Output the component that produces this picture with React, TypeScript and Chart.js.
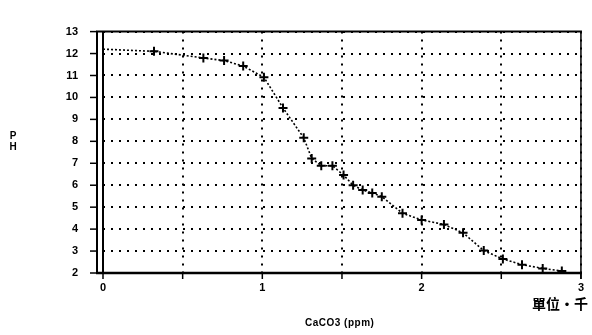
import React, { useEffect, useRef } from 'react';
import { Chart, registerables } from 'chart.js';
Chart.register(...registerables);

const xValues = [0, 0.32, 0.63, 0.76, 0.88, 1.01, 1.13, 1.26, 1.31, 1.37, 1.44, 1.51, 1.57, 1.63, 1.69, 1.75, 1.88, 2.0, 2.14, 2.26, 2.39, 2.51, 2.63, 2.76, 2.88];
const yValues = [12.2, 12.1, 11.8, 11.68, 11.43, 10.92, 9.52, 8.16, 7.22, 6.89, 6.89, 6.46, 6.0, 5.78, 5.65, 5.48, 4.72, 4.42, 4.21, 3.83, 3.02, 2.64, 2.38, 2.21, 2.09];
const xTickLabels = ['0', '1', '2', '3'];
const yAxisTitle = ['P', 'H'];
const unitLabel = '單位·千';
const xAxisTitle = 'CaCO3 (ppm)';

const framePlugin = {
  id: 'frame',
  afterDraw(chart: any) {
    const { ctx, chartArea } = chart;
    const { left, right, top, bottom } = chartArea;
    const xs = chart.scales.x;
    const ys = chart.scales.y;
    ctx.save();
    ctx.strokeStyle = '#000';
    ctx.setLineDash([]);
    ctx.lineWidth = 2;
    ctx.beginPath();
    ctx.moveTo(left - 7, top); ctx.lineTo(right + 1, top);
    ctx.stroke();
    ctx.lineWidth = 2.5;
    ctx.beginPath();
    ctx.moveTo(left - 7, bottom); ctx.lineTo(right + 1, bottom);
    ctx.stroke();
    ctx.lineWidth = 2;
    ctx.beginPath();
    ctx.moveTo(left, top); ctx.lineTo(left, bottom);
    ctx.moveTo(left - 6, top); ctx.lineTo(left - 6, bottom);
    ctx.stroke();
    ctx.lineWidth = 1.5;
    ctx.beginPath();
    ctx.moveTo(right, top); ctx.lineTo(right, bottom + 6);
    ctx.stroke();
    ctx.lineWidth = 1.5;
    for (let v = 2; v <= 13; v++) {
      const y = ys.getPixelForValue(v);
      ctx.beginPath();
      ctx.moveTo(left - 13, y); ctx.lineTo(left - 6, y);
      ctx.stroke();
    }
    for (let v = 0; v <= 3; v += 0.5) {
      const x = xs.getPixelForValue(v);
      ctx.beginPath();
      ctx.moveTo(x, bottom); ctx.lineTo(x, bottom + 6);
      ctx.stroke();
    }
    ctx.fillStyle = '#000';
    ctx.font = 'bold 10px "Liberation Sans", Arial, sans-serif';
    ctx.textAlign = 'center';
    ctx.textBaseline = 'middle';
    ctx.fillText(yAxisTitle[0], 13, 136);
    ctx.fillText(yAxisTitle[1], 13, 147);
    ctx.font = 'bold 14px "Noto Sans CJK TC", sans-serif';
    ctx.textAlign = 'right';
    ctx.fillText(unitLabel, 588, 304);
    ctx.font = 'bold 10px "Liberation Sans", Arial, sans-serif';
    try { (ctx as any).letterSpacing = '0.5px'; } catch (e) {}
    ctx.textAlign = 'left';
    ctx.fillText(xAxisTitle, 305, 323);
    ctx.restore();
  },
};

export default function App() {
  const ref = useRef<HTMLCanvasElement | null>(null);
  useEffect(() => {
    if (!ref.current) return;
    const data = xValues.map((x, i) => ({ x, y: yValues[i] }));
    const chart = new Chart(ref.current, {
      type: 'line',
      data: {
        datasets: [
          {
            data,
            borderColor: '#000',
            borderWidth: 1.6,
            borderDash: [2, 2],
            pointStyle: 'cross',
            pointRadius: xValues.map((_, i) => (i === 0 ? 0 : 4.5)),
            pointBorderWidth: 2,
            pointBorderColor: '#000',
            pointBackgroundColor: '#000',
            tension: 0,
            fill: false,
          },
        ],
      },
      options: {
        animation: false,
        responsive: false,
        maintainAspectRatio: false,
        layout: { padding: { top: 14, right: 8, left: 0, bottom: 0 } },
        plugins: { legend: { display: false }, tooltip: { enabled: false } },
        scales: {
          x: {
            type: 'linear',
            min: 0,
            max: 3,
            afterFit: (s: any) => { s.height = 62; },
            grid: { color: '#000', lineWidth: 2, drawTicks: false },
            border: { display: false, dash: [2, 6] },
            ticks: {
              stepSize: 0.5,
              autoSkip: false,
              maxRotation: 0,
              padding: 8,
              color: '#000',
              font: { family: '"Liberation Sans", Arial, sans-serif', size: 11, weight: 'bold' },
              callback: (v: any) => (Number.isInteger(v) ? xTickLabels[v] : ''),
            },
          },
          y: {
            min: 2,
            max: 13,
            afterFit: (s: any) => { s.width = 103; },
            grid: { color: '#000', lineWidth: 2, drawTicks: false },
            border: { display: false, dash: [2, 6] },
            ticks: {
              stepSize: 1,
              autoSkip: false,
              padding: 25,
              color: '#000',
              font: { family: '"Liberation Sans", Arial, sans-serif', size: 11, weight: 'bold' },
            },
          },
        },
      },
      plugins: [framePlugin],
    });
    return () => chart.destroy();
  }, []);
  return (
    <div style={{ position: 'fixed', left: 0, top: 0, width: 592, height: 335, background: '#fff' }}>
      <canvas ref={ref} width={592} height={335} style={{ width: 592, height: 335, display: 'block' }} />
    </div>
  );
}
